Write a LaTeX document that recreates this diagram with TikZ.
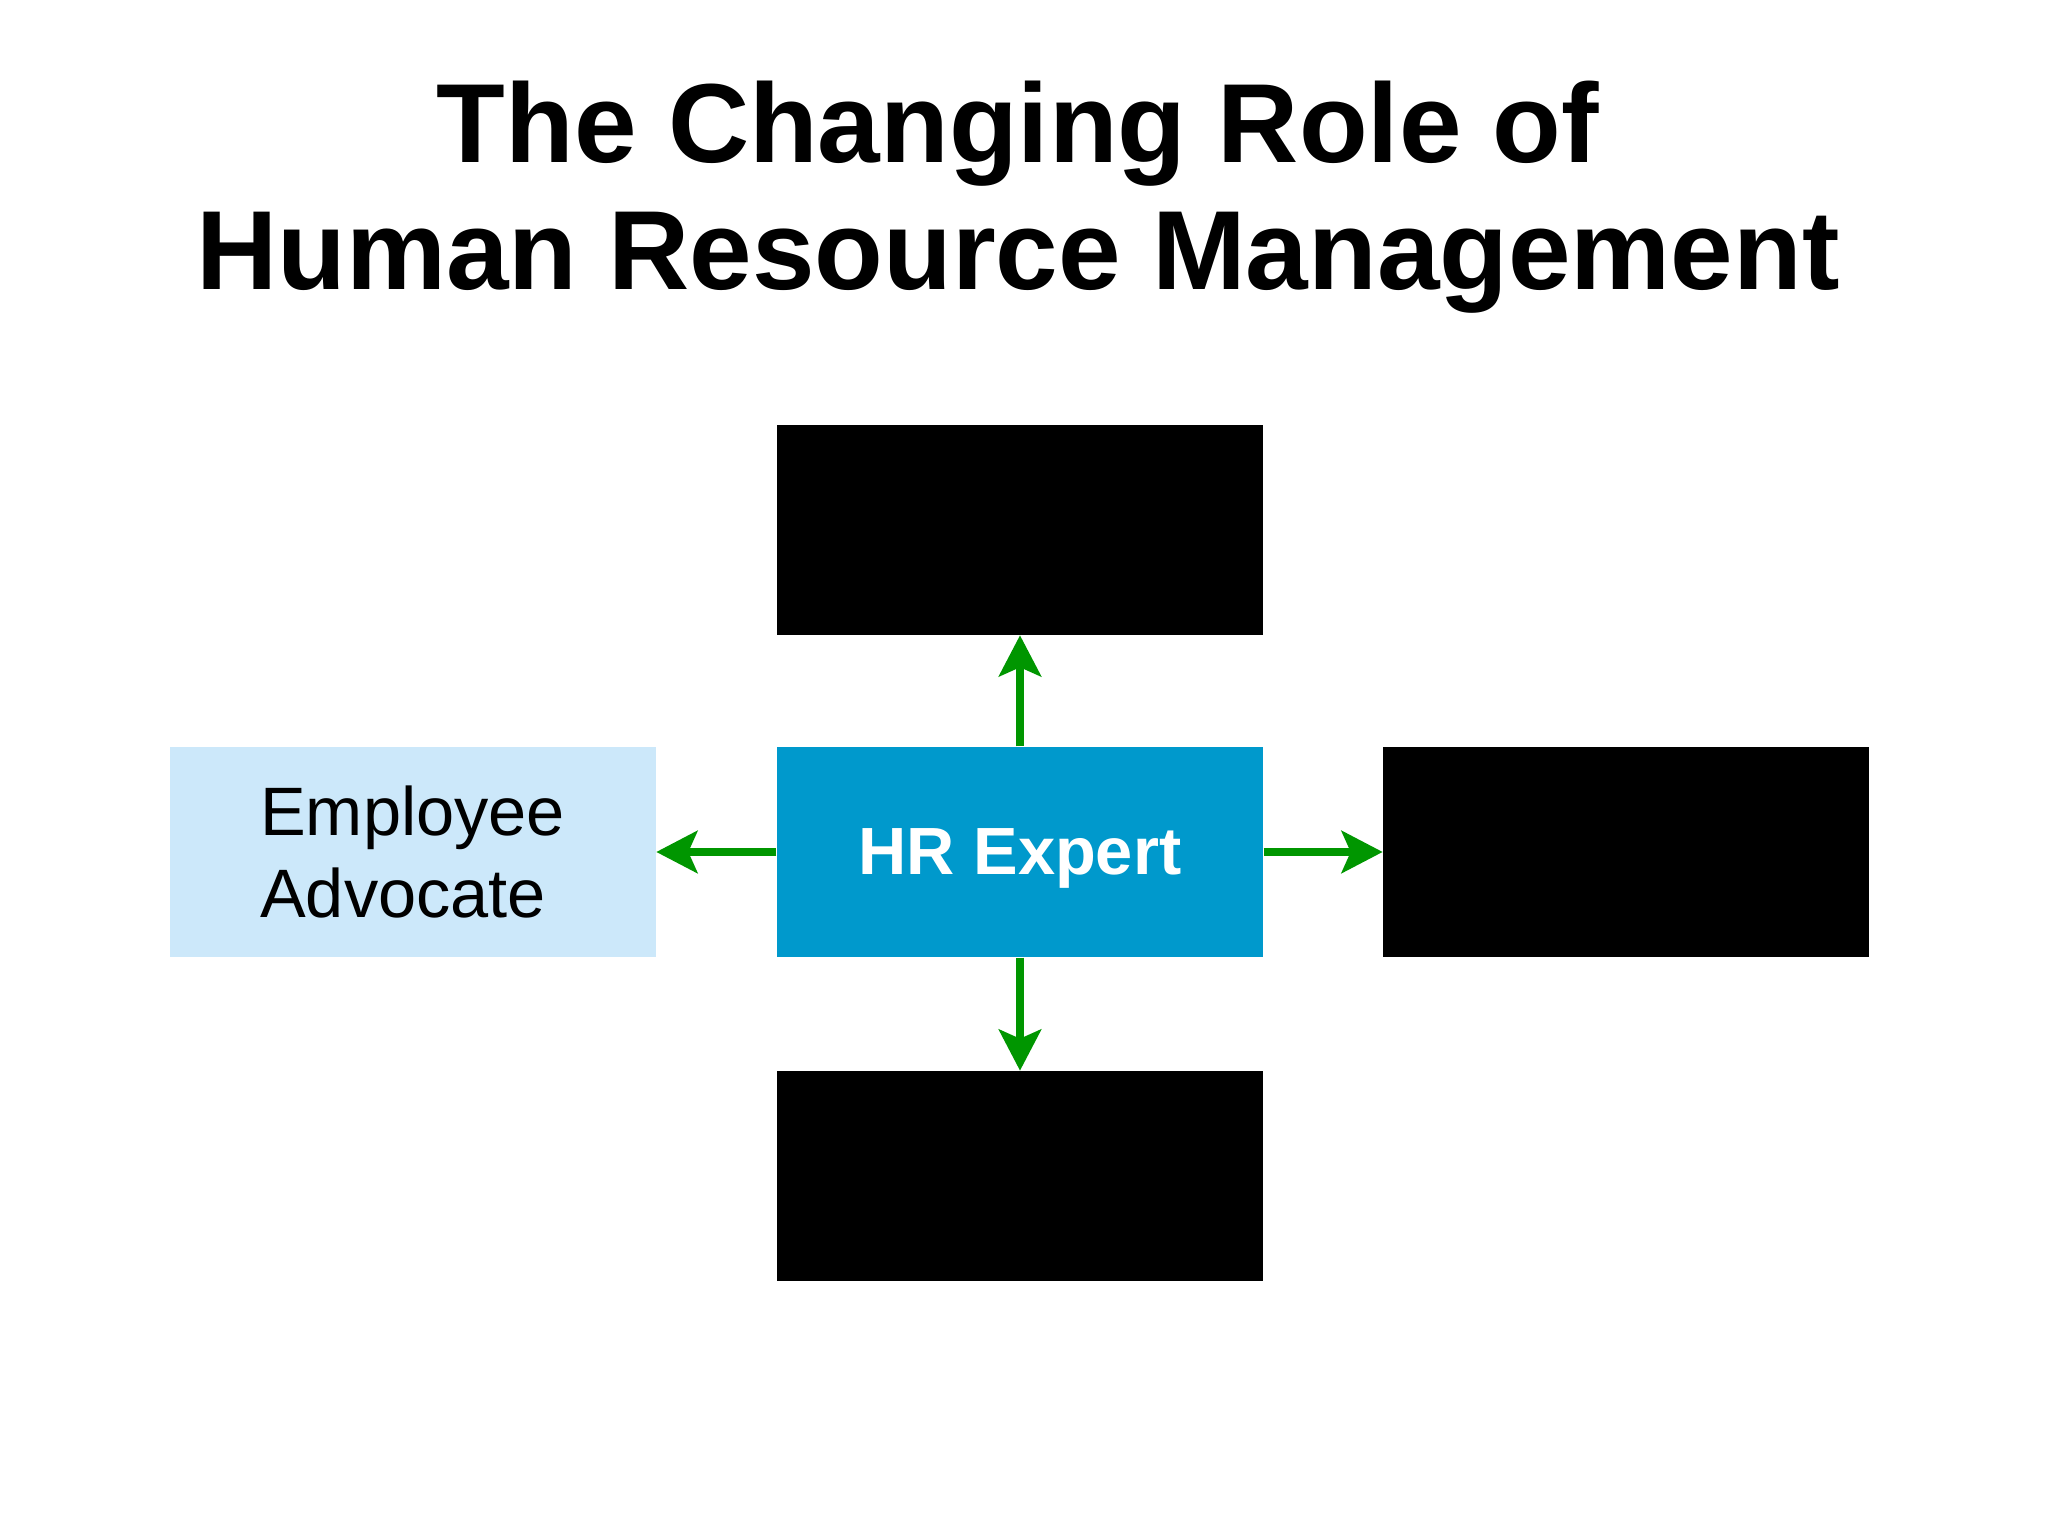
\documentclass[tikz,border=0pt]{standalone}
\usepackage{fontspec}
\setmainfont{Liberation Sans}
\usetikzlibrary{positioning,arrows.meta}
\definecolor{hrblue}{RGB}{0,153,204}
\definecolor{paleblue}{RGB}{204,232,250}
\definecolor{arrowgreen}{RGB}{0,150,0}

\begin{document}
\begin{tikzpicture}
    \tikzstyle{rolebox}=[minimum width=4.86cm,minimum height=2.1cm,inner sep=0pt]
    \tikzstyle{hiddenrole}=[rolebox,fill=black]
    \tikzstyle{link}=[draw=arrowgreen,line width=0.08cm,
        -{Stealth[length=0.41cm,width=0.42cm,inset=0.09cm]}]
    \useasboundingbox (0,0) rectangle (20.48,15.36);

    \node[align=center,inner sep=0pt,font=\fontsize{32}{36}\selectfont\bfseries]
        (title) at (10.18,13.39) {The Changing Role of\\Human Resource Management};

    \node[rolebox,fill=hrblue,text=white,text depth=0pt,
        font=\fontsize{19}{23}\selectfont\bfseries] (expert) at (10.2,6.84) {HR Expert};

    \node[hiddenrole,above=1.11cm of expert] (top) {};
    \node[hiddenrole,below=1.13cm of expert] (bottom) {};
    \node[hiddenrole,right=1.19cm of expert] (right) {};
    \node[rolebox,fill=paleblue,align=left,left=1.2cm of expert,
        font=\fontsize{19.5}{23.3}\selectfont] (advocate) {Employee\\Advocate};

    \draw[link] (expert) -- (top);
    \draw[link] (expert) -- (bottom);
    \draw[link] (expert) -- (right);
    \draw[link] (expert) -- (advocate);

\end{tikzpicture}
\end{document}
